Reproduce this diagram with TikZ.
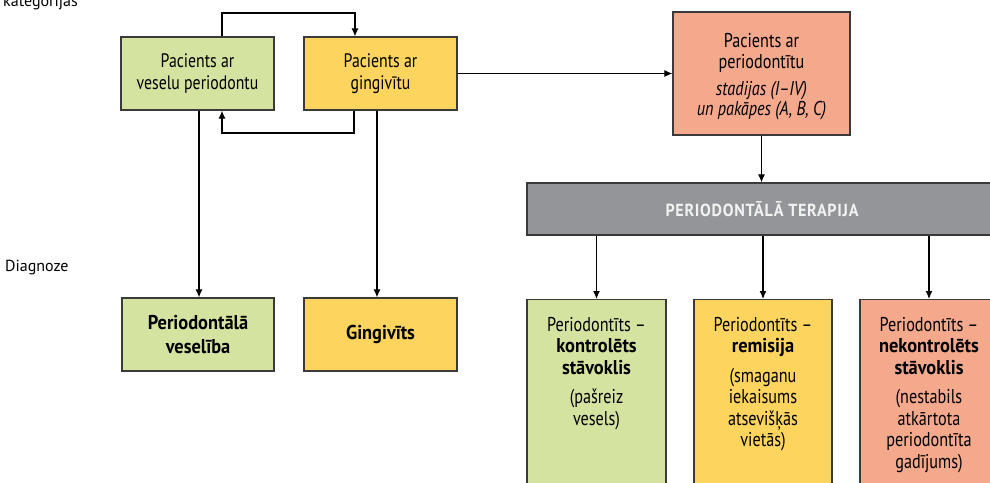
\documentclass[tikz,border=0pt]{standalone}
\usepackage{fontspec}
\setmainfont[FakeStretch=0.81, BoldFeatures={FakeStretch=0.92}]{PT Sans}
\newfontfamily\labelfont{PT Sans}
\usetikzlibrary{arrows.meta}
\definecolor{cgreen}{HTML}{D4E3A0}
\definecolor{cyellow}{HTML}{FDD45E}
\definecolor{csalmon}{HTML}{F4A98C}
\definecolor{cgray}{HTML}{939598}
\definecolor{cborder}{HTML}{3A3A3A}
\definecolor{cbartext}{HTML}{F2F2F2}
\tikzset{
  box/.style={draw=cborder, line width=1.3pt, rectangle, inner sep=0pt, align=center,
    font=\fontsize{19.5}{22}\selectfont},
  boxtext/.style={inner sep=0pt, align=center, anchor=north,
    font=\fontsize{20}{21.5}\selectfont},
  sidelabel/.style={inner sep=0pt, anchor=base west, font=\labelfont\fontsize{16}{18}\selectfont},
  arr/.style={line width=1.1pt, draw=black, -{Latex[length=8pt,width=7pt]}},
}
\begin{document}
\begin{tikzpicture}[x=1pt,y=1pt]
\useasboundingbox (0,0) rectangle (990,-482);
\clip (0,0) rectangle (990,-482);

% side labels
\node[sidelabel] (lkat) at (3,-6.5) {kategorijas};
\node[sidelabel] (ldiag) at (5,-271) {Diagnoze};

% patient categories
\node[box, fill=cgreen, minimum width=153, minimum height=73] (h1) at (197.5,-73.5)
  {Pacients ar\\veselu periodontu};
\node[box, fill=cyellow, minimum width=153, minimum height=73] (g1) at (380.5,-73.5)
  {Pacients ar\\gingivītu};
\node[box, fill=csalmon, minimum width=177, minimum height=123] (p1) at (761.5,-73.5) {};
\node[boxtext, font=\fontsize{20}{20.5}\selectfont] (p1t) at (761.5,-33.5)
  {Pacients ar\\periodontītu\\[6.5pt]\textit{stadijas (I–IV)}\\\textit{un pakāpes (A, B, C)}};

% therapy bar
\node[box, fill=cgray, minimum width=473, minimum height=52] (th) at (763.5,-209) {};
\node[inner sep=0pt, text=cbartext, font=\fontsize{17.5}{20}\selectfont\bfseries\addfontfeatures{LetterSpace=4}]
  (tht) at (762,-209) {PERIODONTĀLĀ TERAPIJA};

% diagnoses
\node[box, fill=cgreen, minimum width=152, minimum height=73, font=\fontsize{20}{24}\selectfont\bfseries]
  (d1) at (198,-334.5) {Periodontālā\\veselība};
\node[box, fill=cyellow, minimum width=153, minimum height=73, font=\fontsize{20}{24}\selectfont\bfseries]
  (d2) at (380.5,-334.5) {Gingivīts};

\node[box, fill=cgreen, minimum width=139, minimum height=220, anchor=north] (c1) at (596.5,-299) {};
\node[box, fill=cyellow, minimum width=138, minimum height=220, anchor=north] (c2) at (763,-299) {};
\node[box, fill=csalmon, minimum width=138, minimum height=220, anchor=north] (c3) at (929,-299) {};

\node[boxtext] (c1t) at (596.5,-317)
  {Periodontīts –\\\textbf{kontrolēts}\\\textbf{stāvoklis}\\[8pt](pašreiz\\vesels)};
\node[boxtext] (c2t) at (763,-317)
  {Periodontīts –\\\textbf{remisija}\\[8pt](smaganu\\iekaisums\\atsevišķās\\vietās)};
\node[boxtext] (c3t) at (929,-317)
  {Periodontīts –\\\textbf{nekontrolēts}\\\textbf{stāvoklis}\\[8pt](nestabils\\atkārtota\\periodontīta\\gadījums)};

% routing points
\coordinate (t1) at (222,-13);
\coordinate (t2) at (355,-13);
\coordinate (b1) at (354,-133);
\coordinate (b2) at (222,-133);
\coordinate (v1) at (199,0);
\coordinate (v2) at (377,0);

% connectors
\draw[arr] (h1.north -| t1) -- (t1) -- (t2) -- (g1.north -| t2);
\draw[arr] (g1.south -| b1) -- (b1) -- (b2) -- (h1.south -| b2);
\draw[arr] (h1.south -| v1) -- (d1.north -| v1);
\draw[arr] (g1.south -| v2) -- (d2.north -| v2);
\draw[arr] (g1.east) -- (p1.west);
\draw[arr] (p1.south) -- (th.north -| p1.south);
\draw[arr] (th.south -| c1.north) -- (c1.north);
\draw[arr] (th.south -| c2.north) -- (c2.north);
\draw[arr] (th.south -| c3.north) -- (c3.north);
\end{tikzpicture}
\end{document}
